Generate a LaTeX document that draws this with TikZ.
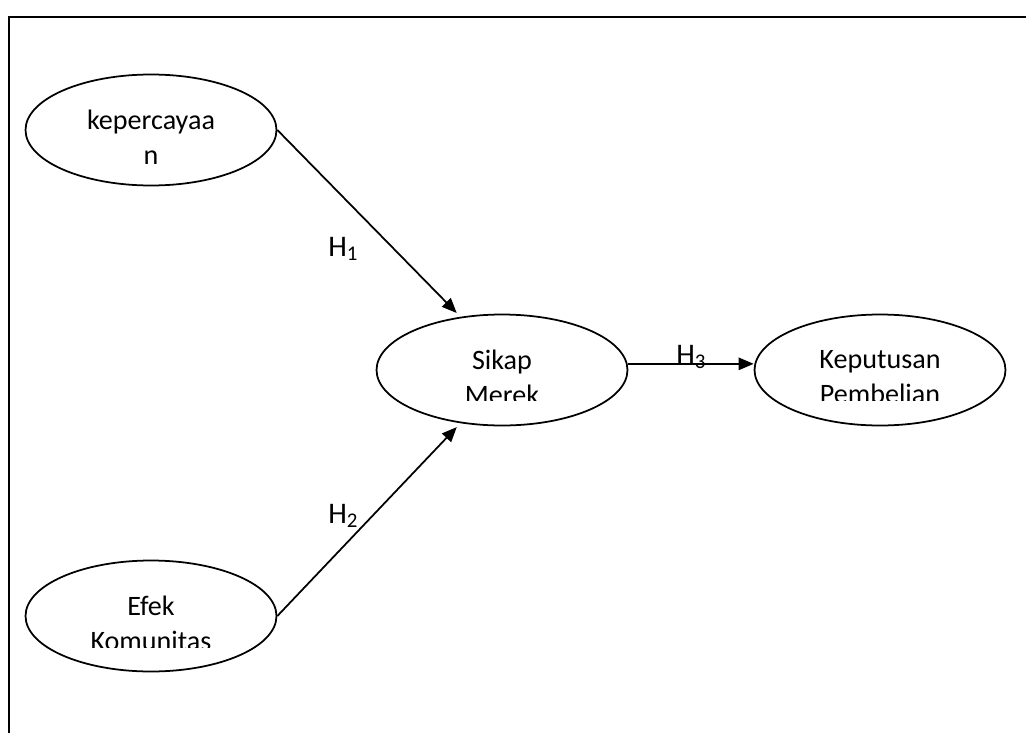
\documentclass[tikz,border=0pt]{standalone}
\usepackage{fontspec}
\setmainfont{Carlito}
\usetikzlibrary{arrows.meta,shapes.geometric}

\tikzset{
  oval/.style={draw, ellipse, line width=1pt, minimum width=5.02cm, minimum height=2.22cm, inner sep=0pt},
  ovaltext/.style={align=center, inner sep=0pt, font=\fontsize{16}{19.9}\selectfont},
  hyp/.style={-{Triangle[length=8.5pt,width=7pt]}, line width=1pt},
  hlabel/.style={anchor=base west, inner sep=0pt, font=\fontsize{17}{20}\selectfont}
}

\begin{document}
\begin{tikzpicture}[x=0.02cm, y=-0.02cm]
	\useasboundingbox (0,0) rectangle (1026,733);
	% bingkai
	\draw[line width=1.2pt] (1026,17) -- (9,17) -- (9,733);
	% variabel (teks terpotong di bawah)
	\foreach \nm/\x/\y/\cut/\txt in {kep/151/130/0.7/{kepercayaa\\n},
		efek/151/616/0.62/{Efek\\Komunitas},
		sikap/502/370/0.62/{Sikap\\Merek},
		keputusan/880/370/0.62/{Keputusan\\Pembelian}}{
		\node[oval] (\nm) at (\x,\y) {};
		\begin{scope}
			\clip ([yshift=1.2cm]\nm.west) rectangle ([yshift=-\cut cm]\nm.east);
			\node[ovaltext] (\nm-text) at ([yshift=-4.1pt]\nm.center) {\txt};
		\end{scope}
	}
	% hipotesis
	\draw[hyp, shorten >=3pt] (kep.east) -- (sikap.128);
	\draw[hyp, shorten >=3pt] (efek.east) -- (sikap.232);
	\draw[hyp] ([yshift=3.5pt]sikap.east) -- ([yshift=3.5pt]keputusan.west);
	% label
	\node[hlabel] (h1) at (328,256) {H\textsubscript{1}};
	\node[hlabel] (h2) at (328,523) {H\textsubscript{2}};
	\node[hlabel] (h3) at (676,364) {H\textsubscript{3}};
\end{tikzpicture}
\end{document}
